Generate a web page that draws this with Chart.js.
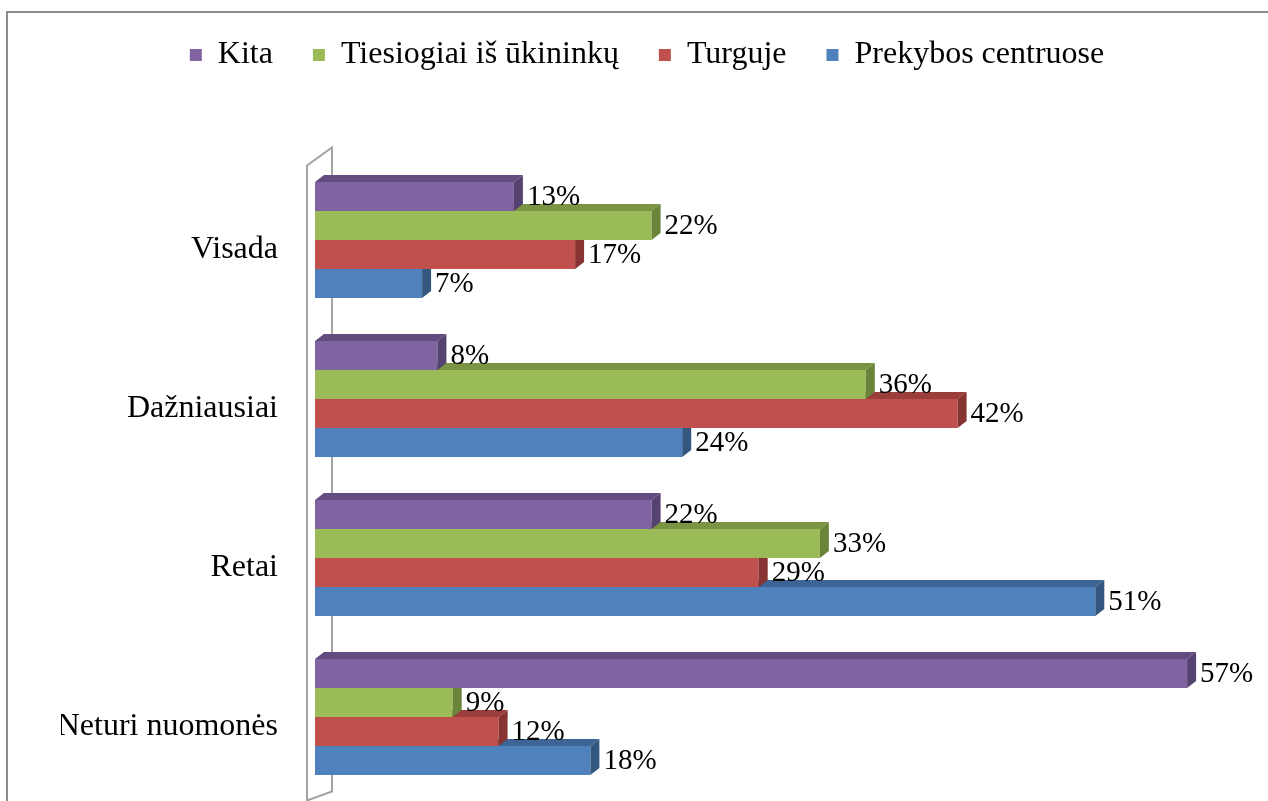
<!DOCTYPE html>
<html>
<head>
<meta charset="utf-8">
<script src="https://cdn.jsdelivr.net/npm/chart.js@4/dist/chart.umd.min.js"></script>
<style>
  body { margin: 0; background: #fff; }
  canvas { display: block; }
</style>
</head>
<body>
<canvas id="myChart" width="1268" height="801"></canvas>
<script>
// data
const categories = ['Visada', 'Dažniausiai', 'Retai', 'Neturi nuomonės'];
const seriesNames = ['Kita', 'Tiesiogiai iš ūkininkų', 'Turguje', 'Prekybos centruose'];
const kita = [13, 8, 22, 57];
const tiesiogiai = [22, 36, 33, 9];
const turguje = [17, 42, 29, 12];
const prekybos = [7, 24, 51, 18];

const frontColors = ['#8064A2', '#9BBB59', '#C0504D', '#4F81BD'];
const topColors = ['#634C80', '#7A9443', '#9A3D3B', '#3C6595'];
const sideColors = ['#564270', '#6A843A', '#863331', '#33577F'];

const serif = '"Liberation Serif", "Times New Roman", serif';
const depthX = 9;
const depthY = 7;

// gray frame round the whole chart
const framePlugin = {
    id: 'frame',
    beforeDraw(chart) {
        let ctx = chart.ctx;
        ctx.save();
        ctx.fillStyle = '#fff';
        ctx.fillRect(0, 0, chart.width, chart.height);
        ctx.strokeStyle = '#8c8c8c';
        ctx.lineWidth = 2;
        ctx.strokeRect(7, 12, 1300, 900);
        ctx.restore();
    }
};

// push the plot down below the legend, and lift the legend a little
const legendGap = {
    id: 'legendGap',
    beforeInit(chart) {
        const legend = chart.legend;
        const originalFit = legend.fit;
        const originalDraw = legend.draw;
        legend.fit = function fit() {
            originalFit.bind(legend)();
            this.height += 78.5;
        };
        legend.draw = function draw() {
            chart.ctx.save();
            chart.ctx.translate(0, -1);
            originalDraw.bind(legend)();
            chart.ctx.restore();
        };
    }
};

// 3d side wall behind the bars
const wallPlugin = {
    id: 'wall',
    beforeDatasetsDraw(chart) {
        let ctx = chart.ctx;
        let a = chart.chartArea;
        let front = a.left - 8;
        let back = a.left + 17;
        ctx.save();
        ctx.strokeStyle = '#a3a3a3';
        ctx.lineWidth = 2;
        ctx.beginPath();
        ctx.moveTo(front, a.bottom + 20);
        ctx.lineTo(front, a.top + 5);
        ctx.lineTo(back, a.top - 13);
        ctx.lineTo(back, a.bottom - 5);
        ctx.lineTo(front, a.bottom + 4);
        ctx.stroke();
        ctx.restore();
    }
};

// top and right faces of every bar, then the value labels
const depthPlugin = {
    id: 'depth',
    afterDatasetDraw(chart, args) {
        let ctx = chart.ctx;
        let i = args.index;
        ctx.save();
        args.meta.data.forEach(bar => {
            let p = bar.getProps(['x', 'y', 'base', 'height'], true);
            let top = p.y - p.height / 2;
            let bottom = p.y + p.height / 2;
            ctx.fillStyle = topColors[i];
            ctx.beginPath();
            ctx.moveTo(p.base, top);
            ctx.lineTo(p.x, top);
            ctx.lineTo(p.x + depthX, top - depthY);
            ctx.lineTo(p.base + depthX, top - depthY);
            ctx.closePath();
            ctx.fill();
            ctx.fillStyle = sideColors[i];
            ctx.beginPath();
            ctx.moveTo(p.x, top);
            ctx.lineTo(p.x + depthX, top - depthY);
            ctx.lineTo(p.x + depthX, bottom - depthY);
            ctx.lineTo(p.x, bottom);
            ctx.closePath();
            ctx.fill();
        });
        ctx.restore();
    },
    afterDatasetsDraw(chart) {
        let ctx = chart.ctx;
        ctx.save();
        ctx.font = '29px ' + serif;
        ctx.fillStyle = '#000';
        ctx.textAlign = 'left';
        ctx.textBaseline = 'middle';
        chart.data.datasets.forEach((ds, i) => {
            chart.getDatasetMeta(i).data.forEach((bar, j) => {
                ctx.fillText(ds.data[j] + '%', bar.x + 13, bar.y + 1);
            });
        });
        ctx.restore();
    }
};

const allSeries = [kita, tiesiogiai, turguje, prekybos];

const data = {
    labels: categories,
    datasets: allSeries.map((vals, i) => ({
        label: seriesNames[i],
        data: vals,
        backgroundColor: frontColors[i],
        borderWidth: 0,
        categoryPercentage: 0.73,
        barPercentage: 1
    }))
};

const config = {
    type: 'bar',
    data: data,
    options: {
        indexAxis: 'y',
        responsive: false,
        animation: false,
        devicePixelRatio: 1,
        layout: {
            padding: { top: 0, left: 61, right: 35, bottom: 4.5 }
        },
        plugins: {
            legend: {
                position: 'top',
                labels: {
                    boxWidth: 12,
                    boxHeight: 12,
                    padding: 40,
                    color: '#000',
                    font: { family: serif, size: 32 }
                }
            },
            tooltip: { enabled: false }
        },
        scales: {
            x: {
                display: false,
                min: 0,
                max: 60
            },
            y: {
                grid: { display: false, drawTicks: false },
                border: { display: false },
                ticks: {
                    padding: 37,
                    labelOffset: 10,
                    color: '#000',
                    font: { family: serif, size: 32 }
                },
                afterFit(scale) {
                    scale.width = 254;
                    // the tick padding must not eat space above and below the plot
                    scale.paddingTop = 0;
                    scale.paddingBottom = 0;
                }
            }
        }
    },
    plugins: [framePlugin, legendGap, wallPlugin, depthPlugin]
};

const myChart = new Chart(document.getElementById('myChart'), config);
</script>
</body>
</html>
